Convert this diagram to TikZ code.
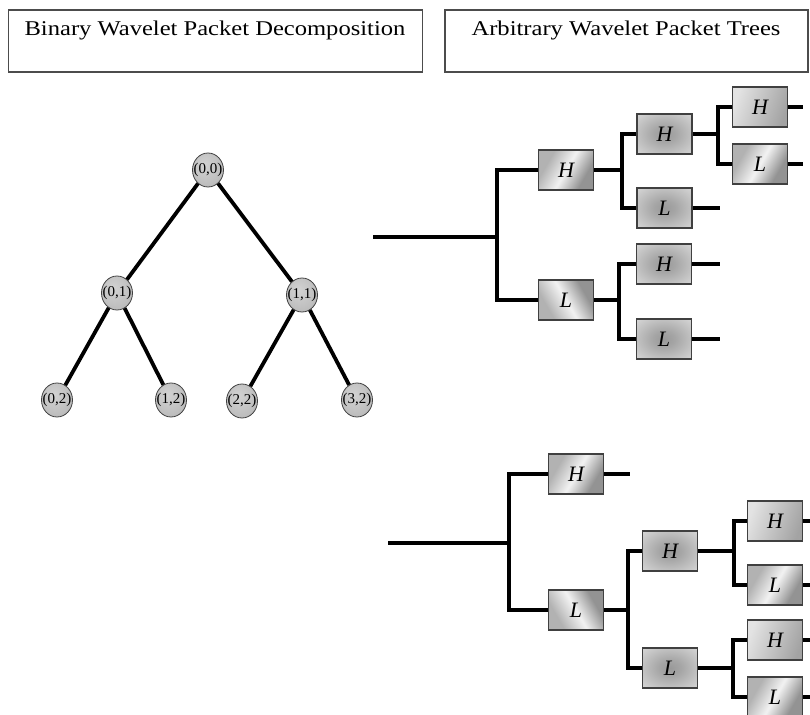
\documentclass[tikz,border=0pt]{standalone}
\usepackage{fontspec}
\setmainfont{Liberation Serif}
\newfontfamily\titlefont[FakeStretch=1.17]{Liberation Serif}
\usetikzlibrary{shapes.geometric}
\pgfdeclarehorizontalshading{dbandsh}{100bp}{color(0bp)=(gray!60); color(30bp)=(gray!60); color(50bp)=(gray!10); color(70bp)=(gray!85); color(100bp)=(gray!85)}
\pgfdeclarehorizontalshading{linsh}{100bp}{color(0bp)=(gray!22); color(25bp)=(gray!22); color(75bp)=(gray!72); color(100bp)=(gray!72)}
\pgfdeclareradialshading{boxradsh}{\pgfpoint{0bp}{0bp}}{color(0bp)=(gray!80); color(10bp)=(gray!70); color(40bp)=(gray!25); color(50bp)=(gray!18); color(80bp)=(gray!15)}
\pgfdeclareradialshading{ellsh}{\pgfpoint{-6bp}{8bp}}{color(0bp)=(gray!35); color(25bp)=(gray!50); color(50bp)=(gray!68); color(80bp)=(gray!75)}
\tikzset{
  titlebox/.style={draw=black!70, line width=1.3pt, minimum width=#1, minimum height=62pt, inner sep=0pt},
  titletext/.style={font=\titlefont\fontsize{21}{24}\selectfont, inner sep=0pt},
  pnode/.style={ellipse, draw=black!75, line width=0.8pt, minimum width=31pt, minimum height=34pt, inner sep=0pt,
    shading=ellsh, font=\fontsize{15}{15}\selectfont},
  bedge/.style={line width=3.8pt, black},
  wire/.style={line width=3.7pt, black},
  fbox/.style={draw=black!75, line width=1.2pt, minimum width=55pt, minimum height=40pt, inner sep=0pt,
    font=\itshape\fontsize{22}{22}\selectfont},
  diagbox/.style={fbox, shading=dbandsh, shading angle=-30},
  diagboxb/.style={fbox, shading=dbandsh, shading angle=30},
  linbox/.style={fbox, shading=linsh, shading angle=-20},
  radbox/.style={fbox, shading=boxradsh},
}
\newcommand{\zw}[1]{\makebox[0pt]{#1}}
\begin{document}
\begin{tikzpicture}[x=1pt,y=-1pt]
\useasboundingbox (0,0) rectangle (810,714);
\fill[white] (0,0) rectangle (810,714);

% titles
\node[titlebox=414pt] (t1) at (215.5,41) {};
\node[titletext] (t1t) at (215,30) {Binary Wavelet Packet Decomposition};
\node[titlebox=363pt] (t2) at (626.5,41) {};
\node[titletext] (t2t) at (626,30) {Arbitrary Wavelet Packet Trees};

% binary tree
\node[pnode] (n00) at (208,170) {\zw{(0,0)}};
\node[pnode] (n01) at (117,293) {\zw{(0,1)}};
\node[pnode] (n11) at (302,295) {\zw{(1,1)}};
\node[pnode] (n02) at (57,400) {\zw{(0,2)}};
\node[pnode] (n12) at (171,400) {\zw{(1,2)}};
\node[pnode] (n22) at (242,401) {\zw{(2,2)}};
\node[pnode] (n32) at (357,400) {\zw{(3,2)}};
\draw[bedge] (n00) -- (n01);
\draw[bedge] (n00) -- (n11);
\draw[bedge] (n01) -- (n02);
\draw[bedge] (n01) -- (n12);
\draw[bedge] (n11) -- (n22);
\draw[bedge] (n11) -- (n32);

% top-right tree
\coordinate (in1) at (373,237);
\coordinate (j1) at (497,237);
\node[diagbox] (h1) at (566,170) {H};
\node[diagboxb] (l1) at (566,300) {L};
\coordinate (j2) at (622,170);
\node[radbox] (h2) at (664.5,134) {H};
\node[radbox] (l2) at (664.5,208) {L};
\coordinate (j3) at (718,134);
\node[linbox] (h3) at (760,107) {H};
\node[diagbox] (l3) at (760,164) {L};
\coordinate (o1) at (803,107);
\coordinate (o2) at (803,164);
\coordinate (o3) at (720,208);
\coordinate (j4) at (619,300);
\node[radbox] (h2b) at (664,264) {H};
\node[radbox] (l2b) at (664,339) {L};
\coordinate (o4) at (720,264);
\coordinate (o5) at (720,339);

\draw[wire] (in1) -- (j1);
\draw[wire] (h1.west) -| (j1) |- (l1.west);
\draw[wire] (h1.east) -- (j2);
\draw[wire] (h2.west) -| (j2) |- (l2.west);
\draw[wire] (h2.east) -- (j3);
\draw[wire] (h3.west) -| (j3) |- (l3.west);
\draw[wire] (h3.east) -- (o1);
\draw[wire] (l3.east) -- (o2);
\draw[wire] (l2.east) -- (o3);
\draw[wire] (l1.east) -- (j4);
\draw[wire] (h2b.west) -| (j4) |- (l2b.west);
\draw[wire] (h2b.east) -- (o4);
\draw[wire] (l2b.east) -- (o5);

% bottom tree
\coordinate (in2) at (388,543);
\coordinate (j5) at (509,543);
\node[diagbox] (hb1) at (576,474) {H};
\node[diagboxb] (lb1) at (576,610) {L};
\coordinate (ob1) at (630,474);
\coordinate (j6) at (628,610);
\node[radbox] (hb2) at (670,551) {H};
\node[radbox] (lb2) at (670,668) {L};
\coordinate (j7) at (734,551);
\node[linbox] (hb3) at (775,521) {H};
\node[diagbox] (lb3) at (775,585) {L};
\coordinate (ob3) at (812,521);
\coordinate (ob4) at (812,585);
\coordinate (j8) at (733,668);
\node[linbox] (hb4) at (775,640) {H};
\node[diagbox] (lb4) at (775,697) {L};
\coordinate (ob5) at (812,640);
\coordinate (ob6) at (812,697);

\draw[wire] (in2) -- (j5);
\draw[wire] (hb1.west) -| (j5) |- (lb1.west);
\draw[wire] (hb1.east) -- (ob1);
\draw[wire] (lb1.east) -- (j6);
\draw[wire] (hb2.west) -| (j6) |- (lb2.west);
\draw[wire] (hb2.east) -- (j7);
\draw[wire] (hb3.west) -| (j7) |- (lb3.west);
\draw[wire] (lb2.east) -- (j8);
\draw[wire] (hb4.west) -| (j8) |- (lb4.west);
\draw[wire] (hb3.east) -- (ob3);
\draw[wire] (lb3.east) -- (ob4);
\draw[wire] (hb4.east) -- (ob5);
\draw[wire] (lb4.east) -- (ob6);
\end{tikzpicture}
\end{document}
